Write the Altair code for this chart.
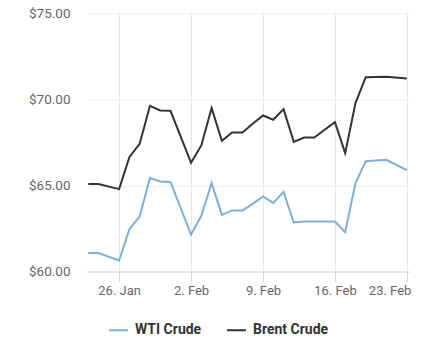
import altair as alt
import pandas as pd

dates = ["2018-01-23", "2018-01-24", "2018-01-26", "2018-01-27", "2018-01-28",
         "2018-01-29", "2018-01-30", "2018-01-31", "2018-02-02", "2018-02-03",
         "2018-02-04", "2018-02-05", "2018-02-06", "2018-02-07", "2018-02-08",
         "2018-02-09", "2018-02-10", "2018-02-11", "2018-02-12", "2018-02-13",
         "2018-02-14", "2018-02-15", "2018-02-16", "2018-02-17", "2018-02-18",
         "2018-02-19", "2018-02-21", "2018-02-23"]
wti = [61.07, 61.07, 60.64, 62.46, 63.20, 65.43, 65.23, 65.21, 62.15, 63.24,
       65.14, 63.29, 63.55, 63.55, 63.93, 64.36, 63.99, 64.63, 62.85, 62.91,
       62.91, 62.91, 62.91, 62.29, 65.14, 66.41, 66.49, 65.89]
brent = [65.08, 65.08, 64.79, 66.65, 67.42, 69.63, 69.36, 69.34, 66.32, 67.33,
         69.50, 67.60, 68.08, 68.08, 68.59, 69.07, 68.82, 69.44, 67.54, 67.79,
         67.79, 68.24, 68.68, 66.88, 69.79, 71.30, 71.32, 71.22]
series_names = ["WTI Crude", "Brent Crude"]
series_colors = ["#7cb0dc", "#333333"]
tick_dates = ["2018-01-26", "2018-02-02", "2018-02-09", "2018-02-16", "2018-02-23"]
y_ticks = [60, 65, 70, 75]

rows = []
for d, v in zip(dates, wti):
    rows.append({"date": d, "price": v, "series": series_names[0]})
for d, v in zip(dates, brent):
    rows.append({"date": d, "price": v, "series": series_names[1]})
df = pd.DataFrame(rows)

def ms(s):
    return int(pd.Timestamp(s, tz="UTC").timestamp() * 1000)

x_domain = [ms("2018-01-22T21:00"), ms("2018-02-23T05:00")]
x_ticks = [ms(t) for t in tick_dates]

chart = alt.Chart(df).mark_line(strokeWidth=2).encode(
    x=alt.X("date:T", title=None,
            scale=alt.Scale(type="utc", domain=x_domain, nice=False),
            axis=alt.Axis(values=x_ticks,
                          labelExpr="utcFormat(datum.value, '%-d. %b')",
                          grid=True, gridColor="#e6e6e6",
                          domainColor="#ccd6eb", tickColor="#ccd6eb",
                          tickSize=10, labelPadding=3, labelFlush=10,
                          labelFlushOffset=4,
                          labelFont="Roboto", labelFontSize=13,
                          labelColor="#666666")),
    y=alt.Y("price:Q", title=None,
            scale=alt.Scale(domain=[60, 75], nice=False, zero=False),
            axis=alt.Axis(values=y_ticks, format="$.2f", grid=True,
                          gridColor="#f0f0f0", domain=False,
                          domainColor="white", domainOpacity=0,
                          ticks=False, tickOpacity=0,
                          labelPadding=17, labelFont="Roboto",
                          labelFontSize=13.5, labelColor="#666666")),
    color=alt.Color("series:N", title=None,
                    scale=alt.Scale(domain=series_names, range=series_colors),
                    legend=alt.Legend(orient="none", direction="horizontal",
                                      legendX=21, legendY=306,
                                      symbolType="stroke", symbolStrokeWidth=2,
                                      symbolSize=360, labelFont="Roboto",
                                      labelFontSize=14, labelFontWeight="bold",
                                      labelColor="#333333", columnPadding=21,
                                      labelOffset=6)),
).properties(
    width=322, height=258,
    background="white",
    autosize=alt.AutoSizeParams(type="none"),
    padding={"left": 87, "top": 13.5, "right": 33, "bottom": 73},
).configure_view(stroke="white", strokeOpacity=0).configure_axisY(
    domain=False, ticks=False
)

chart.save("out.html", embed_options={"renderer": "svg", "actions": False})
